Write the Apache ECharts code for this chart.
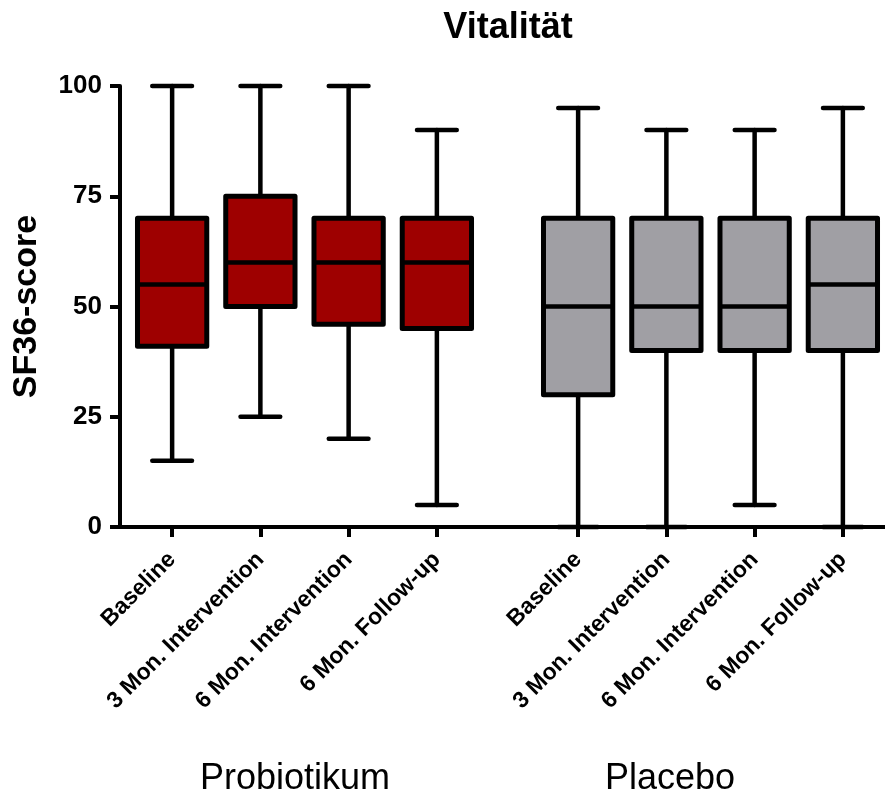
<!DOCTYPE html>
<html>
<head>
<meta charset="utf-8">
<script src="https://cdn.jsdelivr.net/npm/echarts@6/dist/echarts.min.js"></script>
<style>html,body{margin:0;padding:0;background:#fff}#c{width:885px;height:796px}</style>
</head>
<body>
<div id="c"></div>
<script>
const categories = ['Baseline', '3 Mon. Intervention', '6 Mon. Intervention', '6 Mon. Follow-up'];
const groupNames = ['Probiotikum', 'Placebo'];
const yTicks = [0, 25, 50, 75, 100];
// [min, Q1, median, Q3, max]
const probiotikum = [
  [15, 41, 55, 70, 100],
  [25, 50, 60, 75, 100],
  [20, 46, 60, 70, 100],
  [5, 45, 60, 70, 90]
];
const placebo = [
  [0, 30, 50, 70, 95],
  [0, 40, 50, 70, 90],
  [5, 40, 50, 70, 90],
  [0, 40, 55, 70, 95]
];

const FONT = 'Liberation Sans';
const chart = echarts.init(document.getElementById('c'));

function makeRender(fill) {
  return function (params, api) {
    const x = api.value(0);
    const mn = api.coord([x, api.value(1)]);
    const q1 = api.coord([x, api.value(2)]);
    const md = api.coord([x, api.value(3)]);
    const q3 = api.coord([x, api.value(4)]);
    const mx = api.coord([x, api.value(5)]);
    const bw = api.size([1, 0])[0];
    const boxW = bw * 0.785;
    const capW = bw * 0.45;
    const cx = md[0];
    const lw = 4.5;
    const ls = { stroke: '#000', lineWidth: lw, lineCap: 'round' };
    return {
      type: 'group',
      children: [
        { type: 'line', shape: { x1: cx, y1: mx[1], x2: cx, y2: q3[1] }, style: ls },
        { type: 'line', shape: { x1: cx, y1: q1[1], x2: cx, y2: mn[1] }, style: ls },
        { type: 'line', shape: { x1: cx - capW / 2, y1: mx[1], x2: cx + capW / 2, y2: mx[1] }, style: ls },
        { type: 'line', shape: { x1: cx - capW / 2, y1: mn[1], x2: cx + capW / 2, y2: mn[1] }, style: ls },
        { type: 'rect', shape: { x: cx - boxW / 2, y: q3[1], width: boxW, height: q1[1] - q3[1] },
          style: { fill: fill, stroke: '#000', lineWidth: 5, lineJoin: 'round' } },
        { type: 'line', shape: { x1: cx - boxW / 2, y1: md[1], x2: cx + boxW / 2, y2: md[1] }, style: { stroke: '#000', lineWidth: 4.5 } }
      ]
    };
  };
}

const gridTop = 86, gridBottom = 269;

function catAxis(gridIndex) {
  return {
    type: 'category', gridIndex: gridIndex, data: categories,
    axisLine: { show: false },
    axisTick: { show: true, alignWithLabel: true, length: 10, lineStyle: { color: '#000', width: 4 } },
    axisLabel: { interval: 0, rotate: 45, margin: 29, color: '#000', fontFamily: FONT, fontWeight: 'bold', fontSize: 23 },
    splitLine: { show: false }
  };
}
function hiddenY(gridIndex) {
  return { type: 'value', gridIndex: gridIndex, min: 0, max: 100, show: false };
}

chart.setOption({
  animation: false,
  title: [
    { text: 'Vitalität', left: 508, top: 10, textAlign: 'center', padding: 0,
      textStyle: { fontFamily: FONT, fontWeight: 'bold', fontSize: 36, color: '#000' } },
    { text: groupNames[0], left: 295, top: 761, textAlign: 'center', padding: 0,
      textStyle: { fontFamily: FONT, fontWeight: 'normal', fontSize: 36, color: '#000' } },
    { text: groupNames[1], left: 670, top: 761, textAlign: 'center', padding: 0,
      textStyle: { fontFamily: FONT, fontWeight: 'normal', fontSize: 36, color: '#000' } }
  ],
  grid: [
    { left: 120, right: 0, top: gridTop, bottom: gridBottom, outerBoundsMode: 'none' },
    { left: 128, width: 353, top: gridTop, bottom: gridBottom, outerBoundsMode: 'none' },
    { left: 534, width: 353, top: gridTop, bottom: gridBottom, outerBoundsMode: 'none' }
  ],
  xAxis: [
    { type: 'value', gridIndex: 0, min: 0, max: 1,
      axisLine: { show: true, lineStyle: { color: '#000', width: 4 } },
      axisTick: { show: false }, axisLabel: { show: false }, splitLine: { show: false } },
    catAxis(1),
    catAxis(2)
  ],
  yAxis: [
    { type: 'value', gridIndex: 0, min: yTicks[0], max: yTicks[yTicks.length - 1], interval: 25,
      name: 'SF36-score', nameLocation: 'middle', nameGap: 76,
      nameTextStyle: { fontFamily: FONT, fontWeight: 'bold', fontSize: 34, color: '#000' },
      axisLine: { show: true, lineStyle: { color: '#000', width: 4 } },
      axisTick: { show: true, length: 10, lineStyle: { color: '#000', width: 4 } },
      axisLabel: { margin: 18, color: '#000', fontFamily: FONT, fontWeight: 'bold', fontSize: 26 },
      splitLine: { show: false } },
    hiddenY(1),
    hiddenY(2)
  ],
  series: [
    { type: 'custom', xAxisIndex: 1, yAxisIndex: 1, renderItem: makeRender('#9e0000'),
      encode: { x: 0, y: [1, 2, 3, 4, 5] }, clip: false,
      data: probiotikum.map((d, i) => [i].concat(d)) },
    { type: 'custom', xAxisIndex: 2, yAxisIndex: 2, renderItem: makeRender('#a09fa4'),
      encode: { x: 0, y: [1, 2, 3, 4, 5] }, clip: false,
      data: placebo.map((d, i) => [i].concat(d)) }
  ]
});
</script>
</body>
</html>
